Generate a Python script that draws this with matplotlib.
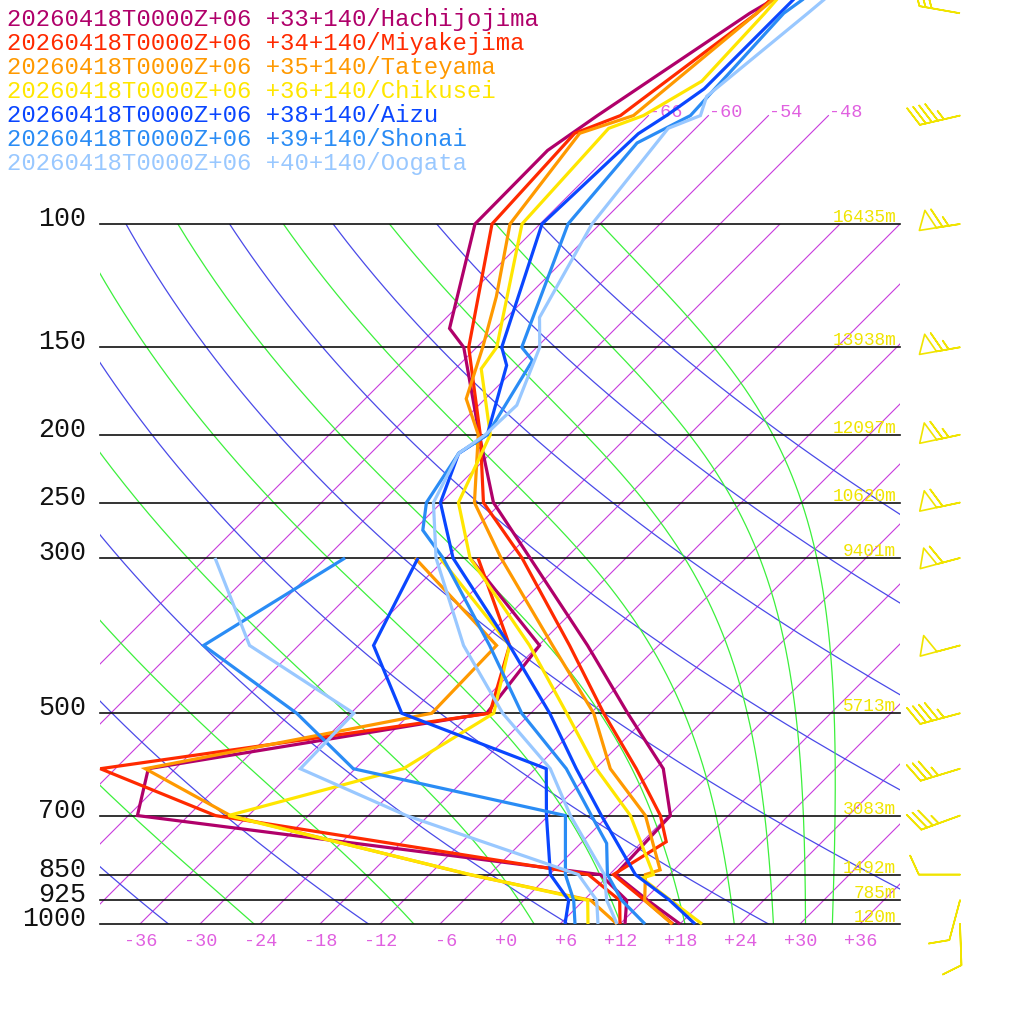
import numpy as np
import matplotlib
matplotlib.use("Agg")
import matplotlib.pyplot as plt
from matplotlib.transforms import Affine2D, blended_transform_factory, offset_copy
from matplotlib.patches import Rectangle

# ---------------------------------------------------------------- data
run_label = "20260418T0000Z+06"
stations = ["Hachijojima", "Miyakejima", "Tateyama", "Chikusei", "Aizu", "Shonai", "Oogata"]
latitudes = ["+33", "+34", "+35", "+36", "+38", "+39", "+40"]
longitude = "+140"
colors = ["#b0006a", "#ff2a00", "#ff9900", "#ffe600", "#0a46ff", "#2a8cf5", "#99c8ff"]

# temperature profiles (hPa, degC)
hachijojima_p = [1000, 925, 850, 700, 600, 500, 400, 300, 250, 200, 150, 141, 100, 78.5, 70, 50, 47.5]
hachijojima_t = [18.0, 12.4, 6.6, 6.2, 0.8, -8.3, -19.1, -33.6, -42.8, -51.0, -61.3, -64.6, -72.5, -72.6, -71.1, -66.1, -65.0]
miyakejima_p = [1000, 925, 850, 763, 700, 600, 500, 400, 300, 250, 200, 150, 100, 74.2, 70, 50, 47.5]
miyakejima_t = [17.3, 12.1, 6.4, 8.4, 5.2, -1.9, -10.7, -20.9, -34.4, -43.8, -50.9, -60.8, -70.8, -71.6, -68.8, -65.4, -65.4]
tateyama_p = [1000, 925, 850, 837, 700, 600, 500, 400, 300, 250, 200, 177.7, 150, 127, 100, 74.2, 70, 50, 47.5]
tateyama_t = [17.2, 12.1, 9.6, 10.6, 3.7, -4.5, -11.7, -22.6, -36.5, -44.7, -51.1, -55.9, -59.4, -63.1, -69.0, -71.1, -67.5, -65.4, -65.1]
chikusei_p = [1000, 925, 860, 850, 700, 600, 500, 400, 300, 250, 200, 161, 150, 100, 73, 70, 62.5, 50, 47.5]
chikusei_t = [20.2, 14.7, 9.6, 10.4, 2.2, -5.9, -14.4, -24.9, -39.6, -46.3, -49.9, -57.4, -58.0, -67.8, -68.7, -66.5, -64.1, -64.6, -64.8]
aizu_p = [1000, 925, 850, 700, 600, 500, 400, 300, 250, 212.6, 200, 159.2, 150, 100, 74.3, 70, 64.1, 50, 47.5]
aizu_t = [19.5, 14.6, 8.6, -0.7, -7.9, -16.1, -26.9, -41.3, -48.1, -51.2, -50.2, -55.2, -57.5, -65.8, -65.2, -64.2, -63.1, -63.1, -63.1]
shonai_p = [1000, 925, 850, 767, 700, 600, 500, 400, 300, 273.8, 250, 212.6, 200, 156.7, 150, 100, 76.6, 70, 50, 47.5]
shonai_t = [14.5, 9.8, 5.8, 2.6, -1.7, -8.9, -18.9, -28.9, -42.3, -47.1, -49.5, -51.2, -50.2, -53.1, -55.5, -63.2, -64.4, -61.8, -62.7, -62.1]
oogata_p = [1000, 925, 850, 700, 600, 500, 400, 300, 250, 212.6, 200, 181.5, 150, 136, 100, 73, 70, 65.7, 50, 47.5]
oogata_t = [11.7, 8.3, 5.5, -3.8, -10.5, -20.8, -31.5, -43.0, -48.8, -51.2, -50.4, -50.2, -53.7, -56.7, -60.8, -62.75, -60.8, -62.1, -60.3, -60.0]

# dew point profiles (1000 .. 300 hPa)
td_levels = [1000, 925, 850, 700, 600, 500, 400, 300]
hachijojima_td = [12.5, 10.3, 5.1, -47.1, -50.7, -22.4, -23.9, -39.6]
miyakejima_td = [12.0, 9.6, 3.9, -39.3, -55.5, -22.1, -26.9, -38.8]
tateyama_td = [11.7, 6.7, -8.0, -37.8, -51.0, -27.9, -28.2, -45.1]
chikusei_td = [8.8, 6.4, -7.9, -38.0, -25.2, -21.7, -26.9, -42.6]
aizu_td = [6.5, 4.5, 0.1, -6.2, -10.9, -30.9, -40.5, -44.8]
shonai_td = [7.5, 5.0, 1.6, -4.3, -30.2, -41.4, -57.5, -52.1]
oogata_td = [9.8, 7.3, 2.9, -20.2, -35.5, -35.7, -52.9, -65.1]

# wind (direction deg, speed kt)
wind_levels = [1000, 925, 850, 700, 600, 500, 400, 300, 250, 200, 150, 100, 70, 50]
wind_dir = [178, 195, 270, 250, 253, 255, 255, 255, 258, 258, 260, 261, 257, 280]
wind_kt = [10, 10, 10, 35, 35, 45, 50, 60, 60, 65, 65, 65, 45, 30]

# geopotential height labels
height_levels = [1000, 925, 850, 700, 500, 300, 250, 200, 150, 100]
height_text = ["120m", "785m", "1492m", "3083m", "5713m", "9401m", "10620m", "12097m", "13938m", "16435m"]

isobars = [1000, 925, 850, 700, 500, 300, 250, 200, 150, 100]
isotherms = list(range(-66, 37, 6))
isotherm_labels = list(range(-36, 37, 6))
upper_isotherms = [-66, -60, -54, -48]
dry_thetas = list(range(240, 401, 20))
moist_thetaes = list(range(250, 411, 20))

t_profiles = [(hachijojima_p, hachijojima_t), (miyakejima_p, miyakejima_t),
              (tateyama_p, tateyama_t), (chikusei_p, chikusei_t),
              (aizu_p, aizu_t), (shonai_p, shonai_t), (oogata_p, oogata_t)]
td_profiles = [hachijojima_td, miyakejima_td, tateyama_td, chikusei_td,
               aizu_td, shonai_td, oogata_td]

# ---------------------------------------------------------------- figure
W = 1024
DPI = 100
FONT = ["Liberation Mono", "DejaVu Sans Mono"]
fig = plt.figure(figsize=(W / DPI, W / DPI), dpi=DPI)
fig.patch.set_facecolor("white")
ax = fig.add_axes([0, 0, 1, 1])
ax.set_autoscale_on(False)
ax.set_yscale("log")
P_BOT = 1000 * 10 ** (100 / 700)
P_TOP = 1000 * 10 ** (-924 / 700)
X0 = -50
ax.set_xlim(X0, X0 + W / 10)
ax.set_ylim(P_BOT, P_TOP)
ax.axis("off")

skew = ax.transData + Affine2D().translate(0, -100).skew_deg(45, 0).translate(0, 100)
blend = blended_transform_factory(ax.transAxes, ax.transData)
box = Rectangle((100 / W, 100 / W), 800 / W, 700 / W, transform=fig.transFigure,
                facecolor="none", edgecolor="none")

ISO_C = "#c83cdc"
GREEN = "#3cf03c"
BLUE = "#4a4ae8"


def label_visible(t_at_100):
    # left edge of a label placed at 100 hPa, in pixels
    return (t_at_100 - X0) * 10 + 700 > 60


# isotherms
for t in isotherms:
    ln, = ax.plot([t, t], [1000, 100], color=ISO_C, lw=0.8, transform=skew, zorder=1)
    ln.set_clip_path(box)
for t in isotherm_labels:
    ax.text(t, 1000, f"{t:+d}", transform=offset_copy(skew, fig=fig, x=17, y=-22, units="dots"),
            ha="right", va="baseline", color="#e060e0", fontsize=13.3, family=FONT)
for t in upper_isotherms:
    ax.plot([t, t], [100, 70], color=ISO_C, lw=0.8, transform=skew, zorder=1)
    ax.text(t, 70, f"{t:+d}", transform=offset_copy(skew, fig=fig, x=1, y=-1, units="dots"),
            ha="left", va="baseline", color="#e060e0", fontsize=13.3, family=FONT)

plev = np.logspace(3, 2, 240)

# dry adiabats
for th in dry_thetas:
    tc = th * (plev / 1000.0) ** 0.2857 - 273.15
    ln, = ax.plot(tc, plev, color=BLUE, lw=0.9, transform=skew, zorder=1)
    ln.set_clip_path(box)
    if label_visible(tc[-1]):
        tx = ax.text(tc[-1], 100, f"{th}", transform=offset_copy(skew, fig=fig, x=0, y=5, units="dots"),
                     ha="left", va="baseline", color="#5a5ae0", fontsize=12.1, family=FONT, clip_on=True)
        tx.set_clip_path(box)

# moist (pseudo) adiabats
Rd, Cp, Lv, EPS = 287.04, 1005.7, 2.501e6, 0.622


def es(tc):
    return 6.112 * np.exp(17.67 * tc / (tc + 243.5))


def rs(tc, p):
    e = es(tc)
    return EPS * e / (p - e)


def theta_e(tc, p):
    tk = tc + 273.15
    r = rs(tc, p) * 1000.0
    th = tk * (1000.0 / p) ** (0.2854 * (1 - 0.28e-3 * r))
    return th * np.exp((3.376 / tk - 0.00254) * r * (1 + 0.81e-3 * r))


def t_at_1000(the):
    lo, hi = -80.0, 60.0
    for _ in range(80):
        mid = 0.5 * (lo + hi)
        if theta_e(mid, 1000.0) > the:
            hi = mid
        else:
            lo = mid
    return 0.5 * (lo + hi)


def dtdlnp(tk, p):
    r = rs(tk - 273.15, p)
    return (Rd * tk + Lv * r) / (Cp + Lv * Lv * r * EPS / (Rd * tk * tk))


def moist_adiabat(the, pl):
    tk = t_at_1000(the) + 273.15
    out = [tk]
    for i in range(1, len(pl)):
        lp0, lp1 = np.log(pl[i - 1]), np.log(pl[i])
        h = lp1 - lp0
        pm = np.exp(lp0 + 0.5 * h)
        k1 = dtdlnp(tk, pl[i - 1])
        k2 = dtdlnp(tk + 0.5 * h * k1, pm)
        k3 = dtdlnp(tk + 0.5 * h * k2, pm)
        k4 = dtdlnp(tk + h * k3, pl[i])
        tk = tk + h * (k1 + 2 * k2 + 2 * k3 + k4) / 6.0
        out.append(tk)
    return np.array(out) - 273.15


for the in moist_thetaes:
    tc = moist_adiabat(the, plev)
    ln, = ax.plot(tc, plev, color=GREEN, lw=0.9, transform=skew, zorder=1)
    ln.set_clip_path(box)
    if label_visible(tc[-1]):
        tx = ax.text(tc[-1], 100, f"{the}", transform=offset_copy(skew, fig=fig, x=0, y=5, units="dots"),
                     ha="left", va="baseline", color="#66ee66", fontsize=12.1, family=FONT, clip_on=True)
        tx.set_clip_path(box)

# isobars and labels
for p in isobars:
    ax.plot([100 / W, 900 / W], [p, p], color="#111111", lw=1.2, transform=blend, zorder=2)
    ax.text(86 / W, p, f"{p}", transform=offset_copy(blend, fig=fig, x=0, y=-2, units="dots"),
            ha="right", va="baseline", color="#111111", fontsize=19.2, family=FONT)

for p, s in zip(height_levels, height_text):
    ax.text(896 / W, p, s, transform=offset_copy(blend, fig=fig, x=0, y=2, units="dots"),
            ha="right", va="baseline", color="#f0e400", fontsize=12.8, family=FONT, zorder=3)

# soundings
for (pp, tt), td, col in zip(t_profiles, td_profiles, colors):
    ax.plot(td, td_levels, color=col, lw=2.3, transform=skew, zorder=5,
            solid_joinstyle="miter", solid_capstyle="butt")
    ax.plot(tt, pp, color=col, lw=2.3, transform=skew, zorder=5,
            solid_joinstyle="miter", solid_capstyle="butt")

# wind barbs
wd = np.radians(np.array(wind_dir, dtype=float))
ws = np.array(wind_kt, dtype=float)
u = -ws * np.sin(wd)
v = -ws * np.cos(wd)
ax.barbs(np.full(len(wind_levels), 960 / W), wind_levels, u, v, transform=blend,
         length=7.7, barbcolor="#f0e400", flagcolor="none", linewidth=1.2,
         sizes=dict(height=0.46, spacing=0.15, width=0.42), zorder=6)

# legend
for i, (st, lat, col) in enumerate(zip(stations, latitudes, colors)):
    fig.text(7 / W, 1 - (26 + 24 * i) / W, f"{run_label} {lat}{longitude}/{st}",
             ha="left", va="baseline", color=col, fontsize=17.2, family=FONT)

fig.savefig("out.png", dpi=DPI, facecolor="white")
